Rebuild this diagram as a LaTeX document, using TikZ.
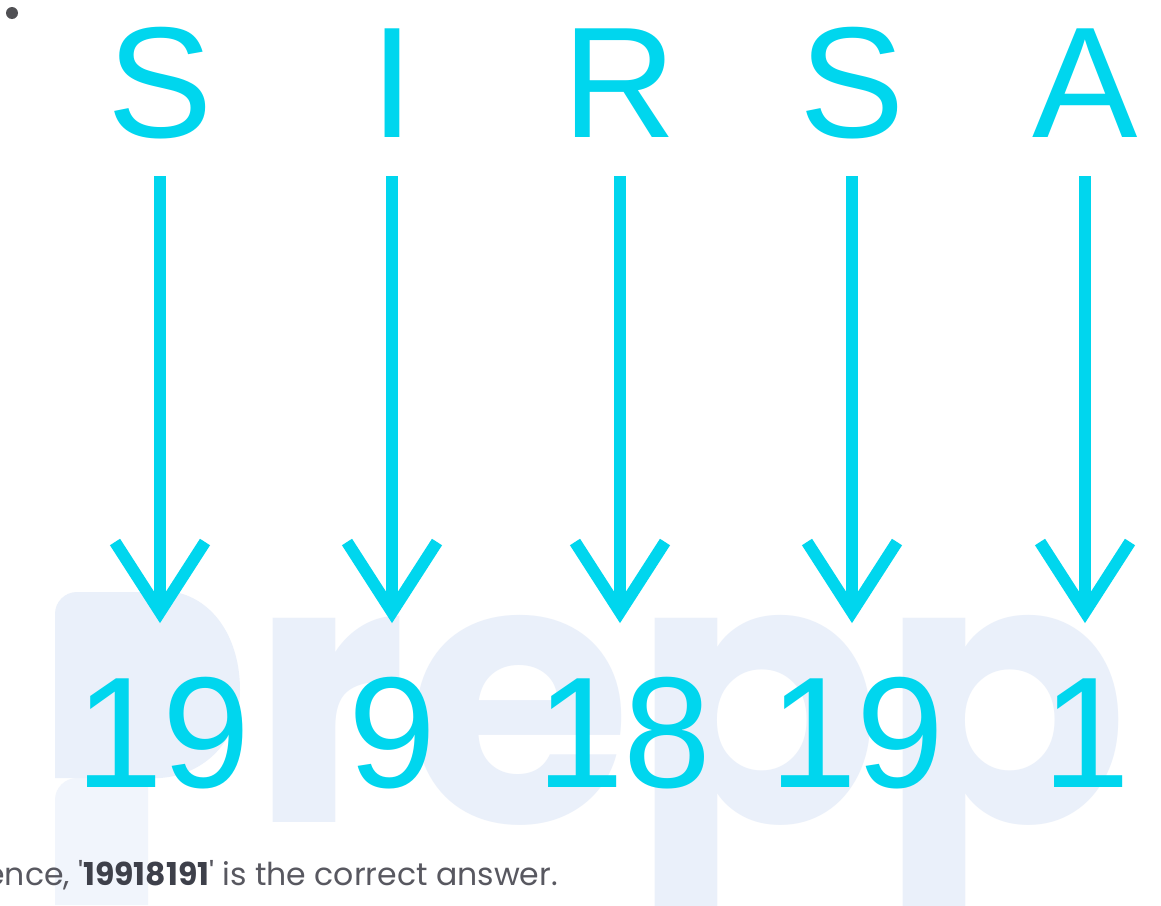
\documentclass[tikz,border=0pt]{standalone}
\usepackage{fontspec}
\setmainfont{Liberation Sans}
\newfontfamily\pop{Poppins}
\definecolor{cy}{RGB}{0,214,238}
\definecolor{wm}{RGB}{234,240,250}
\definecolor{wml}{RGB}{241,245,252}
\definecolor{tg}{RGB}{88,88,96}
\definecolor{tb}{RGB}{62,64,74}
\definecolor{dotc}{RGB}{80,80,84}
\tikzset{
  letter/.style={font=\fontsize{158}{158}\selectfont, text=cy, inner sep=0pt, anchor=base},
  shaft/.style={draw=cy, line width=12pt},
  head/.style={draw=cy, line width=12pt, line join=miter},
  watermark/.style={font=\pop\bfseries\fontsize{366}{366}\selectfont, text=wm, inner sep=0pt, anchor=base west},
  caption/.style={font=\pop\fontsize{31.5}{31.5}\selectfont, text=tg, inner sep=0pt, anchor=base east}
}
\begin{document}
\begin{tikzpicture}[x=1pt,y=-1pt]
\useasboundingbox (0,0) rectangle (1161,905);
\clip (0,0) rectangle (1161,905);
\fill[white] (0,0) rectangle (1161,905);
% logo p of the watermark
\fill[wml] (55,905) [rounded corners=22pt]-- (55,778) [sharp corners]-- (148,778) -- (148,905) -- cycle;
\fill[wm] (55,778) [rounded corners=22pt]-- (55,592) [sharp corners]-- (175,592)
  .. controls (215,600) and (240,640) .. (240,690)
  .. controls (240,740) and (205,775) .. (160,778) -- cycle;
\node[watermark] (W) at (250,822) {repp};
\fill[dotc] (12,13) circle (6);
\node[letter] (L1) at (160,137) {S};
\node[letter] (L2) at (392,137) {I};
\node[letter] (L3) at (620,137) {R};
\node[letter] (L4) at (852,137) {S};
\node[letter] (L5) at (1085,137) {A};
\node[letter] (N1) at (163,787) {19};
\node[letter] (N2) at (392,787) {9};
\node[letter] (N3) at (624,787) {18};
\node[letter] (N4) at (857,787) {19};
\node[letter] (N5) at (1086,787) {1};
\foreach \i/\x in {1/160,2/392,3/620,4/852,5/1085}{
  \coordinate (T\i) at (\x,612);
  \draw[shaft] ([yshift=-39pt]L\i.base) -- (T\i);
  \draw[head] ([shift={(-45,-70)}]T\i) -- (T\i) -- ([shift={(45,-70)}]T\i);
}
\node[caption] (C) at (558,885) {ence, \textquotesingle{\bfseries\color{tb}19918191}\textquotesingle{} is the correct answer.};
\end{tikzpicture}
\end{document}
